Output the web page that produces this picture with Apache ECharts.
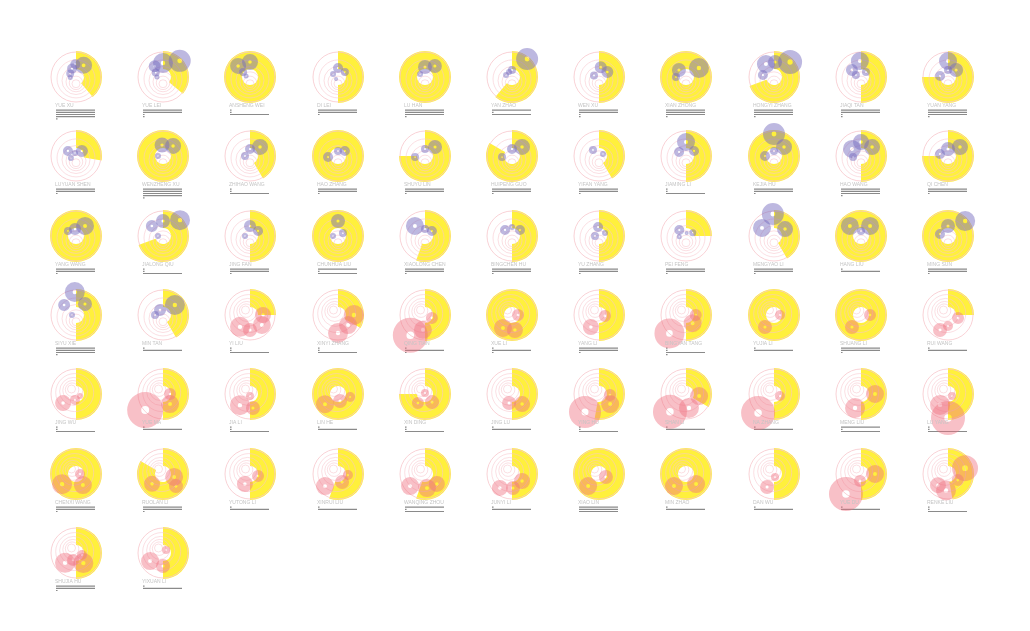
<!DOCTYPE html>
<html><head><meta charset="utf-8">
<script src="https://cdn.jsdelivr.net/npm/echarts@6/dist/echarts.min.js"></script>
<style>html,body{margin:0;background:#fff}#c{width:1030px;height:631px}</style>
</head><body><div id="c"></div><script>
// ---- data ----
const names = [
 'YUE XU','YUE LEI','ANSHENG WEI','DI LEI','LU HAN','YAN ZHAO','WEN XU','XIAN ZHONG','HONGYI ZHANG','JIAQI TAN','YUAN YANG',
 'LUYUAN SHEN','WENZHENG XU','ZHIHAO WANG','HAO ZHANG','SHUYU LIN','HUIPENG GUO','YIFAN YANG','JIAMING LI','KEJIA HU','HAO WANG','QI CHEN',
 'YANG WANG','JIALONG QIU','JING FAN','CHUNHUA LIU','XIAOLONG CHEN','BINGCHEN HU','YU ZHANG','PEI FENG','MENGYAO LI','HANG LIU','MING SUN',
 'SIYU XIE','MIN TAN','YI LIU','XINYI ZHANG','QING TIAN','XUE LI','YANG LI','BINGYAN TANG','YUJIA LI','SHUANG LI','RUI WANG',
 'JING WU','YUE MA','JIA LI','LIN HE','XIN DING','JING LU','YING HU','SHAN LI','NA ZHANG','MENG LIU','LU YANG',
 'CHENXI WANG','RUOLAN LI','YUTONG LI','XINRUI LIU','WANQING ZHOU','JUNYI LI','XIAO LIN','MIN ZHAO','DAN WU','YUE DU','RENKE LIU',
 'SHUJIA HU','YIXUAN LI'
];
// number of first-group (purple) cells
const groupA = 35;
// yellow sweep in degrees (clockwise from 12 o'clock)
const sweep = [
 140,130,360,180,360,220,180,360,250,180,270,
 100,360,150,360,270,300,150,180,360,180,270,
 360,250,180,360,200,180,180,90,150,360,360,
 180,150,90,120,180,360,180,180,360,360,90,
 180,180,180,360,270,180,190,120,180,180,180,
 360,300,180,200,200,180,360,360,180,180,170,
 180,180
];
// inner radius of the yellow band (fraction of radius)
const inner = new Array(68).fill(0.32);
// circles: [angle deg, radius fraction, diameter]
const dots = [
 [[33,.56,17],[357,.51,10],[335,.37,10],[301,.27,8],[264,.23,5]],
 [[46,.93,22],[0,.56,20],[322,.54,12],[301,.34,8],[270,.24,5]],
 [[313,.65,16],[0,.6,16],[306,.34,8],[284,.16,5]],
 [[0,.36,10],[54,.34,8],[301,.23,6],[225,.11,4]],
 [[0,.4,14],[42,.59,14],[301,.23,6]],
 [[40,.94,22],[0,.28,8],[288,.25,6],[329,.23,6]],
 [[10,.4,12],[59,.39,12],[288,.21,8]],
 [[315,.4,14],[55,.63,20],[270,.4,8]],
 [[328,.61,18],[4,.6,14],[47,.88,24],[280,.45,10]],
 [[356,.64,18],[308,.46,12],[292,.22,8],[45,.28,8]],
 [[0,.64,18],[49,.43,14],[277,.32,10],[0,.28,8]],

 [[50,.31,12],[302,.38,10],[342,.13,6],[248,.22,6]],
 [[355,.44,15],[45,.57,16],[270,.2,6]],
 [[48,.54,16],[0,.28,10],[270,.2,8]],
 [[264,.4,10],[0,.2,8],[54,.34,10]],
 [[48,.54,14],[0,.28,8],[264,.4,8]],
 [[48,.54,16],[0,.28,10],[264,.4,8]],
 [[315,.34,8],[63,.18,6]],
 [[0,.56,18],[300,.32,10],[58,.38,10]],
 [[0,.88,22],[48,.54,16],[270,.36,10],[0,.2,8]],
 [[308,.46,18],[0,.56,16],[51,.57,16],[263,.32,8]],
 [[0,.28,14],[53,.6,16],[284,.33,10]],

 [[42,.54,18],[352,.28,12],[302,.38,8]],
 [[47,.93,20],[0,.6,14],[312,.6,12],[270,.2,6]],
 [[0,.4,12],[58,.38,10],[270,.2,6]],
 [[0,.6,14],[59,.23,8],[270,.2,6]],
 [[315,.57,18],[54,.34,10],[0,.28,8]],
 [[311,.37,10],[53,.4,10],[0,.36,6]],
 [[354,.36,10],[270,.16,8],[63,.27,6]],
 [[312,.36,10],[64,.3,7],[264,.27,5],[13,.12,4]],
 [[357,.88,22],[304,.58,18],[58,.52,16]],
 [[312,.6,18],[42,.54,18],[0,.2,8]],
 [[49,.91,20],[0,.4,14],[284,.33,10]],

 [[357,.92,20],[39,.57,14],[310,.62,12],[270,.16,6]],
 [[50,.62,20],[329,.23,12],[270,.32,8]],
 [[220,.62,20],[130,.62,18],[90,.52,16],[180,.6,14]],
 [[228,1.05,38],[180,.72,20],[135,.57,18],[90,.64,20]],
 [[216,1.0,35],[188,.6,18],[113,.3,12]],
 [[215,.63,18],[169,.61,16],[90,.24,12]],
 [[214,.58,16],[99,.24,12]],
 [[222,.99,30],[141,.42,18],[90,.39,12]],
 [[217,.6,14],[90,.24,10]],
 [[217,.6,14],[90,.36,12]],
 [[208,.68,14],[107,.42,12],[180,.44,10]],

 [[235,.63,16],[190,.24,10],[117,.18,6]],
 [[228,.96,36],[145,.49,18],[90,.28,12]],
 [[222,.6,20],[168,.57,14],[180,.08,8]],
 [[232,.66,18],[164,.29,14],[104,.5,10]],
 [[218,.46,12],[139,.43,14],[0,.04,8]],
 [[198,.38,14],[135,.57,16]],
 [[218,.91,32],[132,.6,18],[95,.44,12]],
 [[222,.96,34],[168,.57,20],[99,.53,18]],
 [[220,.99,34],[108,.25,10]],
 [[203,.61,20],[90,.56,18]],
 [[180,.96,34],[216,.54,20],[117,.18,8]],

 [[234,.69,20],[148,.52,18],[90,.16,10]],
 [[228,.59,16],[105,.46,18],[133,.71,14]],
 [[207,.45,16],[104,.33,12]],
 [[227,.71,18],[153,.36,14],[96,.4,10]],
 [[231,.77,18],[172,.57,18],[130,.62,16]],
 [[221,.74,16],[176,.56,14],[125,.49,16]],
 [[222,.65,18],[113,.3,14]],
 [[225,.68,18],[135,.57,18]],
 [[208,.59,14],[162,.13,8]],
 [[217,1.0,34],[90,.56,18],[188,.28,12]],
 [[71,.72,26],[187,.66,20],[222,.6,16],[122,.46,12]],

 [[228,.59,20],[144,.5,20],[108,.25,10],[203,.3,12]],
 [[238,.61,18],[180,.52,14],[45,.17,8]]
];
// small bar rows under each label (0 = empty row)
const bars = [
 [1,1,1,1,.04],[1,1,.04,.04,0],[.04,.04,1,0,0],[1,1,.04,0,0],[1,1,1,.04,0],[1,.04,1,0,0],[1,1,.04,.04,0],[1,1,1,.04,0],[1,1,1,.04,0],[1,1,.04,.04,0],[1,1,1,.04,0],
 [1,1,.04,0,0],[1,1,1,1,.04],[.04,.04,1,0,0],[1,1,.04,0,0],[1,1,.04,0,0],[1,1,.04,0,0],[1,1,.04,0,0],[.04,.04,1,0,0],[1,1,.04,0,0],[1,1,1,.04,0],[1,1,.04,0,0],
 [1,1,.04,0,0],[.04,.04,1,0,0],[1,1,.04,0,0],[1,.04,1,0,0],[1,1,.04,0,0],[1,1,.04,0,0],[1,1,.04,0,0],[1,1,.04,0,0],[1,1,.04,0,0],[.04,1,0,0,0],[1,1,.04,0,0],
 [1,1,1,.04,0],[.04,1,0,0,0],[.04,.04,1,0,0],[.04,.04,1,0,0],[.04,1,.04,0,0],[.04,1,.04,0,0],[1,1,.04,0,0],[.04,.04,1,.04,0],[.04,1,0,0,0],[1,1,.04,0,0],[.04,1,0,0,0],
 [.04,.04,1,0,0],[.04,1,0,0,0],[.04,.04,1,0,0],[.04,1,0,0,0],[.04,.04,1,0,0],[.04,1,0,0,0],[.04,.04,1,0,0],[.04,1,0,0,0],[.04,1,0,0,0],[1,.04,1,0,0],[.04,.04,1,0,0],
 [1,1,.04,0,0],[1,1,.04,0,0],[.04,1,0,0,0],[.04,1,0,0,0],[1,.04,1,0,0],[.04,1,0,0,0],[1,1,1,0,0],[.04,1,0,0,0],[.04,1,0,0,0],[.04,1,0,0,0],[.04,.04,1,0,0],
 [1,1,.04,0,0],[.04,1,0,0,0]
];
// ---- styles ----
const YELLOW = '#fff03c';
const PURPLE = 'rgba(117,106,191,0.6)';
const PINK = 'rgba(240,112,128,0.55)';
const RING = '#f8c6cc';
const DONUT = 'path://M0,-10A10,10,0,1,1,0,10A10,10,0,1,1,0,-10ZM0,-2.2A2.2,2.2,0,1,0,0,2.2A2.2,2.2,0,1,0,0,-2.2Z';
const ringScale = [0.76, 0.56, 0.4, 0.27, 0.16];

const chart = echarts.init(document.getElementById('c'), null, {renderer:'canvas'});
const option = {animation:false, backgroundColor:'#fff', title:[], polar:[], angleAxis:[], radiusAxis:[], grid:[], xAxis:[], yAxis:[], series:[]};
const R = 25;
names.forEach((name, i) => {
  const col = i % 11, row = Math.floor(i / 11);
  const cx = Math.round(76 + col * 87.2), cy = Math.round(77 + row * 79.3);
  const isA = i < groupA;
  option.polar.push({center:[cx, cy], radius:R});
  option.angleAxis.push({polarIndex:i, type:'value', min:0, max:360, startAngle:90, clockwise:true,
    axisLine:{show:true, lineStyle:{color:RING, width:0.8}}, axisTick:{show:false}, axisLabel:{show:false}, splitLine:{show:false}, z:3});
  option.radiusAxis.push({polarIndex:i, type:'value', min:0, max:1,
    axisLine:{show:false}, axisTick:{show:false}, axisLabel:{show:false}, splitLine:{show:false}});
  option.series.push({type:'pie', center:[cx, cy], radius:[inner[i] * R, R + 1], startAngle:90, clockwise:true,
    silent:true, z:1, label:{show:false}, labelLine:{show:false}, emphasis:{disabled:true},
    data:[{value:sweep[i], itemStyle:{color:YELLOW}}, {value:360 - sweep[i], itemStyle:{color:'rgba(0,0,0,0)'}}]});
  const dir = isA ? 180 : 318;
  option.series.push({type:'scatter', coordinateSystem:'polar', polarIndex:i, silent:true, z:3,
    symbol:'circle', symbolSize:(d) => d[2],
    itemStyle:{color:'rgba(0,0,0,0)', borderColor:RING, borderWidth:0.7},
    data: ringScale.map((s) => [(1 - s) * 0.32, dir, 2 * R * s])});
  option.series.push({type:'scatter', coordinateSystem:'polar', polarIndex:i, z:4,
    symbol:DONUT, symbolSize:(d) => d[2], itemStyle:{color: isA ? PURPLE : PINK},
    data: dots[i].map(([a, r, s]) => [r, a, s])});
  option.title.push({text:name, left:cx - 21, top:cy + 26, padding:0, itemGap:0,
    textStyle:{fontSize:5, color:'#c4c4c4', fontWeight:'normal', fontFamily:'Liberation Sans'}});
  option.grid.push({left:cx - 20, top:cy + 32, width:39, height:11});
  option.xAxis.push({gridIndex:i, type:'value', min:0, max:1, show:false});
  option.yAxis.push({gridIndex:i, type:'category', data:['1','2','3','4','5'], inverse:true, show:false});
  option.series.push({type:'bar', xAxisIndex:i, yAxisIndex:i, data:bars[i], barWidth:1.2, silent:true,
    itemStyle:{color:'#8a8a8a'}});
});
chart.setOption(option);
</script></body></html>
